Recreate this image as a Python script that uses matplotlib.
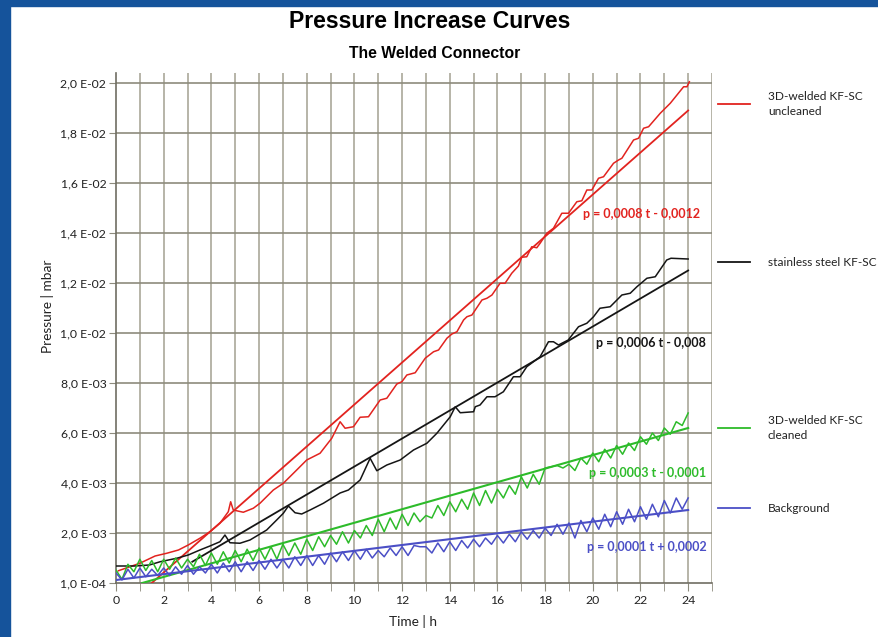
import numpy as np
import matplotlib
matplotlib.use("Agg")
import matplotlib.pyplot as plt
from matplotlib.lines import Line2D
from matplotlib.patches import Rectangle

plt.rcParams['font.family'] = ['Lato', 'DejaVu Sans']

# --- data (pressure in 1e-3 mbar, time in h) ---
red_t = [0.1, 1.0, 1.64, 2.13, 2.62, 3.03, 3.52, 3.94, 4.36, 4.71, 4.81, 4.92, 5.34, 5.76,
         6.04, 6.60, 7.02, 7.58, 8.0, 8.56, 9.05, 9.4, 9.61, 9.96, 10.24, 10.59, 11.08, 11.36,
         11.78, 11.99, 12.2, 12.55, 12.97, 13.32, 13.53, 13.88, 14.09, 14.3, 14.58, 14.72,
         14.93, 15.35, 15.56, 15.77, 16.11, 16.32, 16.6, 16.88, 17.02, 17.23, 17.44, 17.65,
         17.79, 18.07, 18.35, 18.7, 18.98, 19.33, 19.54, 19.75, 19.96, 20.24, 20.45, 20.87,
         21.08, 21.22, 21.71, 21.92, 22.13, 22.34, 22.83, 23.25, 23.81, 23.95, 24.05]
red_p = [0.49, 0.79, 1.08, 1.19, 1.32, 1.52, 1.79, 2.05, 2.39, 2.85, 3.25, 2.92, 2.83, 2.99,
         3.19, 3.72, 3.99, 4.52, 4.92, 5.19, 5.79, 6.45, 6.19, 6.25, 6.63, 6.65, 7.32, 7.39,
         7.96, 8.05, 8.32, 8.41, 8.99, 9.25, 9.32, 9.79, 9.96, 10.05, 10.52, 10.65,
         10.72, 11.32, 11.39, 11.52, 11.99, 11.99, 12.39, 12.68, 13.03, 13.05, 13.45, 13.41,
         13.59, 13.99, 14.19, 14.79, 14.79, 15.25, 15.29, 15.72, 15.72, 16.19, 16.25, 16.79,
         16.92, 16.99, 17.72, 17.79, 18.19, 18.25, 18.79, 19.19, 19.85, 19.85, 20.05]

black_t = [0.03, 0.8, 1.4, 1.85, 2.55, 3.03, 3.52, 3.94, 4.36, 4.57, 4.78, 5.2, 5.62, 5.97,
           6.32, 6.74, 7.02, 7.23, 7.51, 7.79, 8.14, 8.70, 9.4, 9.75, 10.24, 10.66, 10.94,
           11.36, 11.92, 12.48, 13.04, 13.46, 14.02, 14.23, 14.44, 15.0, 15.07, 15.27, 15.56,
           15.9, 16.25, 16.67, 16.95, 17.23, 17.79, 18.14, 18.35, 18.56, 18.97, 19.4, 19.75,
           20.03, 20.3, 20.73, 21.22, 21.57, 21.85, 22.27, 22.62, 23.1, 23.28, 24.0]
black_p = [0.68, 0.68, 0.72, 0.85, 0.99, 1.12, 1.32, 1.48, 1.65, 1.92, 1.61, 1.59, 1.72, 1.92,
           2.12, 2.52, 2.79, 3.08, 2.81, 2.76, 2.92, 3.19, 3.60, 3.72, 4.12, 4.99, 4.49,
           4.72, 4.92, 5.32, 5.59, 5.99, 6.65, 7.05, 6.81, 6.85, 7.05, 7.12, 7.45,
           7.45, 7.65, 8.25, 8.25, 8.65, 9.05, 9.65, 9.65, 9.52, 9.72, 10.25, 10.39,
           10.65, 10.99, 11.05, 11.52, 11.59, 11.85, 12.19, 12.25, 12.92, 12.99, 12.96]

# green and blue are logged every 15 min
zig_t = np.arange(0, 24.01, 0.25)
green_p = [0.52, 0.15, 0.75, 0.45, 0.95, 0.50, 0.90, 0.45,
           0.95, 0.55, 1.00, 0.60, 0.95, 0.65, 1.15, 0.70,
           1.20, 0.75, 1.25, 0.80, 1.30, 0.85, 1.35, 0.90,
           1.40, 0.95, 1.45, 0.95, 1.55, 1.10, 1.60, 1.15,
           1.75, 1.30, 1.85, 1.45, 1.90, 1.55, 2.05, 1.60,
           2.10, 1.80, 2.30, 1.90, 2.55, 2.05, 2.60, 2.15,
           2.75, 2.30, 2.80, 2.45, 2.70, 2.60, 3.10, 2.70,
           3.25, 2.85, 3.35, 2.95, 3.60, 3.10, 3.70, 3.20,
           3.75, 3.40, 3.90, 3.55, 4.25, 3.80, 4.35, 3.95,
           4.60, 4.65, 4.70, 4.60, 4.75, 4.50, 5.00, 4.75,
           5.20, 4.85, 5.35, 5.00, 5.50, 5.15, 5.60, 5.30,
           5.85, 5.55, 6.00, 5.70, 6.20, 5.95, 6.45, 6.30,
           6.80]
blue_p = [0.40, 0.12, 0.55, 0.20, 0.60, 0.25, 0.55, 0.30,
          0.60, 0.30, 0.65, 0.35, 0.70, 0.35, 0.65, 0.40,
          0.75, 0.40, 0.80, 0.45, 0.85, 0.45, 0.85, 0.50,
          0.90, 0.55, 0.95, 0.60, 0.95, 0.60, 1.05, 0.70,
          1.10, 0.70, 1.10, 0.75, 1.20, 0.85, 1.25, 0.90,
          1.30, 0.95, 1.35, 1.00, 1.30, 1.05, 1.40, 1.10,
          1.45, 1.10, 1.50, 1.45, 1.45, 1.20, 1.60, 1.25,
          1.65, 1.30, 1.70, 1.40, 1.75, 1.45, 1.80, 1.55,
          1.90, 1.60, 1.95, 1.65, 2.05, 1.75, 2.10, 1.80,
          2.20, 1.90, 2.35, 1.95, 2.40, 1.80, 2.50, 2.05,
          2.60, 2.15, 2.75, 2.25, 2.85, 2.35, 2.95, 2.45,
          3.05, 2.55, 3.15, 2.65, 3.30, 2.80, 3.40, 2.95,
          3.40]

# linear fits (end points)
red_fit_t, red_fit_p = [1.5, 24], [0.0, 18.9]
black_fit_t, black_fit_p = [3.2, 24], [0.85, 12.5]
green_fit_t, green_fit_p = [1.1, 24], [0.0, 6.2]
blue_fit_t, blue_fit_p = [0, 24], [0.12, 2.92]

fit_labels = ["p = 0,0008 t - 0,0012", "p = 0,0006 t - 0,008",
              "p = 0,0003 t - 0,0001", "p = 0,0001 t + 0,0002"]
legend_labels = ["3D-welded KF-SC\nuncleaned", "stainless steel KF-SC",
                 "3D-welded KF-SC\ncleaned", "Background"]

y_ticks = [0, 2, 4, 6, 8, 10, 12, 14, 16, 18, 20]
y_tick_labels = ["1,0 E-04", "2,0 E-03", "4,0 E-03", "6,0 E-03", "8,0 E-03", "1,0 E-02",
                 "1,2 E-02", "1,4 E-02", "1,6 E-02", "1,8 E-02", "2,0 E-02"]

RED = "#e2231f"
BLACK = "#151515"
GREEN = "#2dbb2a"
BLUE = "#4b4fc6"

s = 1e-3
fig = plt.figure(figsize=(8.79, 6.37), dpi=100)
fig.patch.set_facecolor("white")
fig.add_artist(Rectangle((0, 0), 10 / 879, 1, transform=fig.transFigure,
                         color="#15539b", zorder=0))
fig.add_artist(Rectangle((0, 1 - 6 / 637), 1, 6 / 637, transform=fig.transFigure,
                         color="#15539b", zorder=0))

ax = fig.add_axes([116 / 879, 1 - 583 / 637, (712 - 116) / 879, (583 - 73) / 637])
ax.set_xlim(0, 25)
ax.set_ylim(0, 20.4 * s)

for xv in range(1, 26):
    ax.axvline(xv, color="#aaa89a", lw=1.2, zorder=1)
for yv in y_ticks[1:]:
    ax.axhline(yv * s, color="#8d8b7d", lw=1.2, zorder=1)

ax.plot(red_t, np.array(red_p) * s, color=RED, lw=1.1, zorder=3)
ax.plot(red_fit_t, np.array(red_fit_p) * s, color=RED, lw=1.3, zorder=3)
ax.plot(black_t, np.array(black_p) * s, color=BLACK, lw=1.1, zorder=3)
ax.plot(black_fit_t, np.array(black_fit_p) * s, color=BLACK, lw=1.3, zorder=3)
ax.plot(zig_t, np.array(green_p) * s, color=GREEN, lw=1.1, zorder=3)
ax.plot(green_fit_t, np.array(green_fit_p) * s, color=GREEN, lw=1.5, zorder=3)
ax.plot(zig_t, np.array(blue_p) * s, color=BLUE, lw=1.1, zorder=3)
ax.plot(blue_fit_t, np.array(blue_fit_p) * s, color=BLUE, lw=1.5, zorder=3)

ann = [(24.5, 14.76, RED), (24.76, 9.6, BLACK), (24.76, 4.4, GREEN), (24.76, 1.44, BLUE)]
for (tx, ty, c), lab in zip(ann, fit_labels):
    ax.text(tx, ty * s, lab, color=c, fontsize=9, fontweight="bold",
            ha="right", va="center", zorder=4)

ax.set_xticks(range(0, 25, 2))
ax.set_xticks(range(1, 26, 2), minor=True)
ax.set_yticks([v * s for v in y_ticks])
ax.set_yticklabels(y_tick_labels)
ax.tick_params(axis="both", which="both", direction="out", color="#8d8b7d",
               labelsize=8.8, labelcolor="#222222")
ax.tick_params(axis="x", which="both", length=6, pad=3)
ax.tick_params(axis="y", length=5, pad=2)
for side in ["top", "right"]:
    ax.spines[side].set_visible(False)
for side in ["left", "bottom"]:
    ax.spines[side].set_color("#6f6d62")
    ax.spines[side].set_linewidth(1.2)

fig.text(48 / 879, 1 - 306 / 637, "Pressure | mbar", rotation=90, fontsize=9.8,
         ha="center", va="center", color="#222222")
fig.text(413 / 879, 1 - 622 / 637, "Time | h", fontsize=9.8, ha="center",
         va="center", color="#222222")
fig.text(430 / 879, 1 - 22 / 637, "Pressure Increase Curves", fontsize=16.6,
         fontweight="bold", family="Liberation Sans", ha="center", va="center")
fig.text(435 / 879, 1 - 53 / 637, "The Welded Connector", fontsize=11.3,
         fontweight="bold", family="Liberation Sans", ha="center", va="center")

# legend drawn by hand beside the plot
leg_y = [104, 262, 428, 508]
for y, c, lab in zip(leg_y, [RED, BLACK, GREEN, BLUE], legend_labels):
    fig.add_artist(Line2D([718 / 879, 750 / 879], [1 - y / 637] * 2, color=c, lw=1.3,
                          transform=fig.transFigure))
    fig.text(768 / 879, 1 - y / 637, lab, fontsize=8.6, ha="left", va="center",
             color="#222222", linespacing=1.35)

fig.savefig("out.png", dpi=100)
